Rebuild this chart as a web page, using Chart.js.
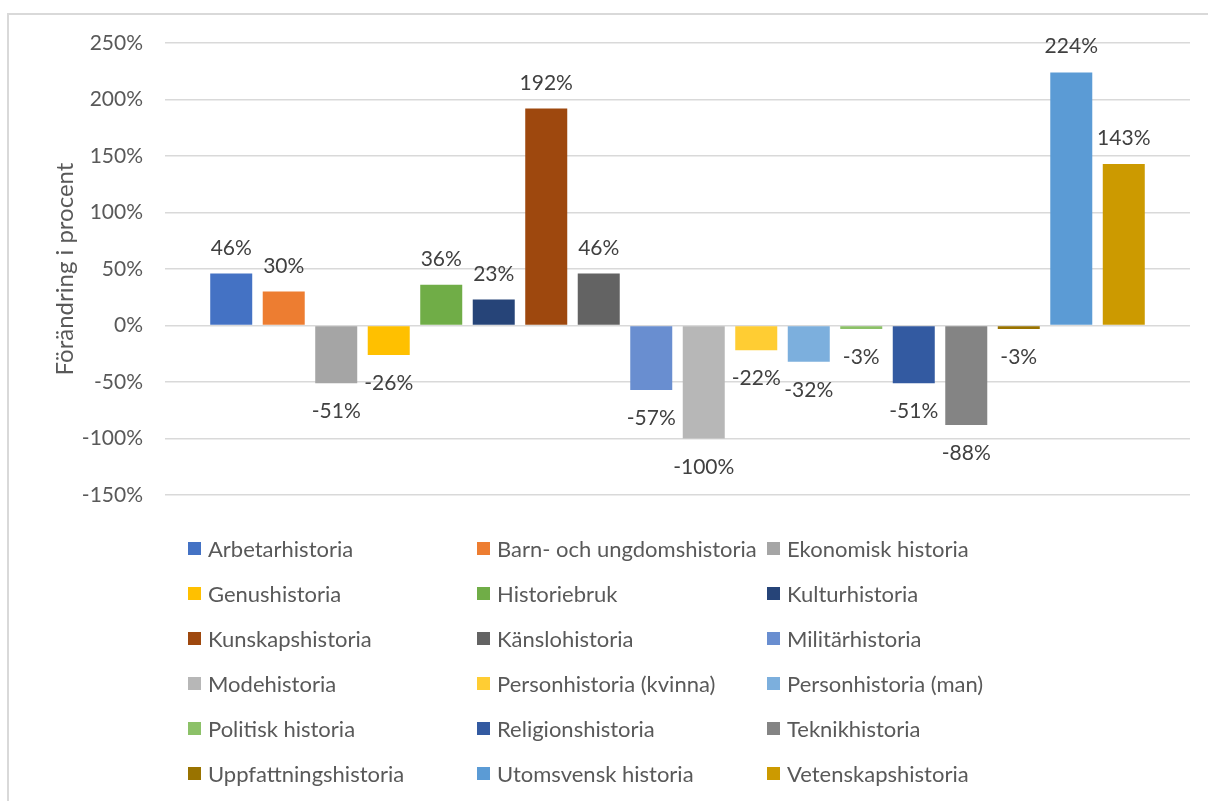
<!DOCTYPE html>
<html>
<head>
<meta charset="utf-8">
<script src="https://cdn.jsdelivr.net/npm/chart.js@4"></script>
<style>
  body { margin: 0; background: #fff; font-family: Lato, sans-serif; }
  #wrap { position: relative; width: 1208px; height: 801px; overflow: hidden; }
  #frame { position: absolute; left: 7px; top: 13px; width: 1220px; height: 820px; border: 2px solid #d9d9d9; box-sizing: border-box; }
  #chart { position: absolute; left: 0; top: 0; }
  #legend { position: absolute; left: 188px; top: 526px; display: grid; grid-template-columns: 289px 290px 300px; grid-auto-rows: 45px; }
  .item { display: flex; align-items: center; font-size: 22px; color: #595959; white-space: nowrap; height: 45px; }
  .box { width: 13px; height: 13px; margin-right: 7px; flex: none; }
</style>
</head>
<body>
<div id="wrap">
  <div id="frame"></div>
  <canvas id="chart" width="1208" height="801"></canvas>
  <div id="legend"></div>
</div>
<script>
// data
const categories = ['Arbetarhistoria', 'Barn- och ungdomshistoria', 'Ekonomisk historia',
  'Genushistoria', 'Historiebruk', 'Kulturhistoria',
  'Kunskapshistoria', 'Känslohistoria', 'Militärhistoria',
  'Modehistoria', 'Personhistoria (kvinna)', 'Personhistoria (man)',
  'Politisk historia', 'Religionshistoria', 'Teknikhistoria',
  'Uppfattningshistoria', 'Utomsvensk historia', 'Vetenskapshistoria'];
const values = [46, 30, -51, -26, 36, 23, 192, 46, -57, -100, -22, -32, -3, -51, -88, -3, 224, 143];
const colors = ['#4472C4', '#ED7D31', '#A5A5A5', '#FFC000', '#70AD47', '#264478',
  '#9E480E', '#636363', '#698ED0', '#B7B7B7', '#FFCD33', '#7CAFDD',
  '#8CC168', '#335AA1', '#848484', '#997300', '#5B9BD5', '#CC9A00'];
const yTicks = [-150, -100, -50, 0, 50, 100, 150, 200, 250];

const datasets = categories.map((name, i) => ({
  label: name,
  data: [values[i]],
  backgroundColor: colors[i],
  borderWidth: 0,
  categoryPercentage: 0.922,
  barPercentage: 0.8
}));

// value labels outside bar ends
const valueLabels = {
  id: 'valueLabels',
  afterDatasetsDraw(chart) {
    const ctx = chart.ctx;
    ctx.save();
    ctx.font = '21px Lato';
    ctx.fillStyle = '#404040';
    ctx.textAlign = 'center';
    ctx.textBaseline = 'alphabetic';
    chart.data.datasets.forEach((ds, i) => {
      const el = chart.getDatasetMeta(i).data[0];
      const v = ds.data[0];
      const y = v >= 0 ? el.y - 19 : el.y + 35;
      ctx.fillText(v + '%', el.x, y);
    });
    ctx.restore();
  }
};

const chart = new Chart(document.getElementById('chart'), {
  type: 'bar',
  data: { labels: [''], datasets },
  options: {
    responsive: false,
    animation: false,
    layout: { padding: { left: 47, top: 43, right: 18, bottom: 306 } },
    scales: {
      x: { display: false },
      y: {
        min: yTicks[0],
        max: yTicks[yTicks.length - 1],
        afterBuildTicks: (s) => { s.ticks = yTicks.map(v => ({ value: v })); },
        afterFit: (s) => { s.width = 118; },
        border: { display: false },
        grid: { color: '#d9d9d9', lineWidth: 1.5, drawTicks: false },
        ticks: {
          padding: 22,
          color: '#595959',
          font: { family: 'Lato', size: 21 },
          callback: v => v + '%'
        },
        title: {
          display: true,
          text: 'Förändring i procent',
          color: '#595959',
          font: { family: 'Lato', size: 24 },
          padding: 4
        }
      }
    },
    plugins: {
      legend: { display: false },
      tooltip: { enabled: false }
    }
  },
  plugins: [valueLabels]
});

// legend in 3 columns
const legendEl = document.getElementById('legend');
chart.data.datasets.forEach(ds => {
  const item = document.createElement('div');
  item.className = 'item';
  item.innerHTML = '<span class="box" style="background:' + ds.backgroundColor + '"></span>' + ds.label;
  legendEl.appendChild(item);
});
</script>
</body>
</html>
